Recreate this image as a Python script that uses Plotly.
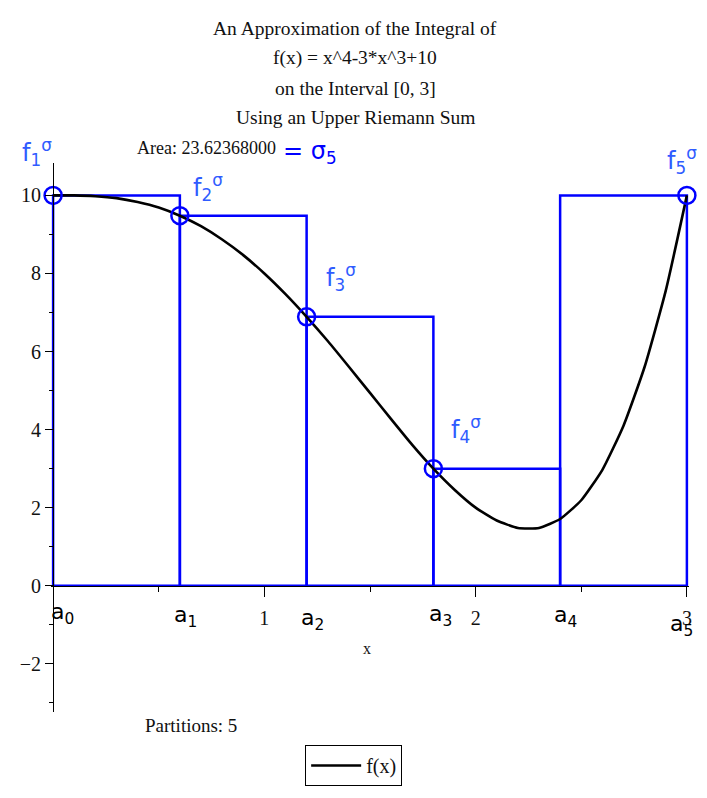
import plotly.graph_objects as go

# ---------------- data ----------------
curve_x = [0.0, 0.1, 0.2, 0.3, 0.4, 0.5, 0.6, 0.7, 0.8, 0.9, 1.0,
           1.1, 1.2, 1.3, 1.4, 1.5, 1.6, 1.7, 1.8, 1.9, 2.0,
           2.1, 2.2, 2.3, 2.4, 2.5, 2.6, 2.7, 2.8, 2.9, 3.0]
curve_y = [10.00, 10.00, 9.98, 9.93, 9.83, 9.69, 9.48, 9.21, 8.87, 8.47, 8.00,
           7.47, 6.89, 6.27, 5.61, 4.94, 4.27, 3.61, 3.00, 2.46, 2.00,
           1.67, 1.48, 1.48, 1.71, 2.19, 2.97, 4.10, 5.61, 7.56, 10.00]

partition_x = [0.0, 0.6, 1.2, 1.8, 2.4, 3.0]
upper_heights = [10.00, 9.48, 6.89, 3.00, 10.00]

sample_x = [0.0, 0.6, 1.2, 1.8, 3.0]
sample_y = [10.00, 9.48, 6.89, 3.00, 10.00]

x_tick_vals = [1, 2, 3]
x_minor_vals = [0.5, 1.5, 2.5]
y_tick_vals = [-2, 0, 2, 4, 6, 8, 10]
y_minor_vals = [-3, -1, 1, 3, 5, 7, 9]

title_lines = ["An Approximation of the Integral of",
               "f(x) = x^4-3*x^3+10",
               "on the Interval [0, 3]",
               "Using an Upper Riemann Sum"]
area_text = "Area: 23.62368000"
partitions_text = "Partitions: 5"
partition_labels = ["a<sub>0</sub>", "a<sub>1</sub>", "a<sub>2</sub>",
                    "a<sub>3</sub>", "a<sub>4</sub>", "a<sub>5</sub>"]
sample_labels = ["f<sub>1</sub><sup>σ</sup>", "f<sub>2</sub><sup>σ</sup>",
                 "f<sub>3</sub><sup>σ</sup>", "f<sub>4</sub><sup>σ</sup>",
                 "f<sub>5</sub><sup>σ</sup>"]
sum_label = "= σ<sub>5</sub>"

# ---------------- layout helpers ----------------
# the page body adds an 8px offset; the figure is sized to fit the window
OFF = 8
W, H = 707 - 2 * OFF + 8, 798 - 2 * OFF + 8
ML, PW = 37, 644
MT, PH = 155, 550
MR = W - ML - PW
MB = H - MT - PH
XR = [-0.01, 3.01]
YR = [-3.235, 10.83]


def pxx(s):
    return (s - OFF - ML) / PW


def pxy(s):
    return (H - MB - (s - OFF)) / PH


SERIF = "Liberation Serif"
HAND = "DejaVu Sans"
BLUE = "#0000FF"
LBLUE = "#2F5CFF"
TXT = "#111111"

fig = go.Figure()

# rectangles of the upper sum
rx, ry = [], []
for i, h in enumerate(upper_heights):
    a, b = partition_x[i], partition_x[i + 1]
    rx += [a, a, b, b, a, None]
    ry += [0, h, h, 0, 0, None]
fig.add_trace(go.Scatter(x=rx, y=ry, mode="lines",
                         line=dict(color=BLUE, width=2.5),
                         showlegend=False, hoverinfo="skip"))

# function curve
fig.add_trace(go.Scatter(x=curve_x, y=curve_y, mode="lines", name="f(x)",
                         line=dict(color="black", width=2.6, shape="spline", smoothing=0.5)))

# handwritten circles at sample points
fig.add_trace(go.Scatter(x=sample_x, y=sample_y, mode="markers",
                         marker=dict(symbol="circle-open", size=17, color=BLUE,
                                     line=dict(width=2.5, color=BLUE)),
                         showlegend=False, hoverinfo="skip", cliponaxis=False))

annotations = []
title_y = [28, 58, 88, 117]
for t, yy in zip(title_lines, title_y):
    annotations.append(dict(text=t, x=pxx(352), y=pxy(yy), xref="paper", yref="paper",
                            xanchor="center", yanchor="middle", showarrow=False,
                            font=dict(family=SERIF, size=19.5, color=TXT)))
annotations.append(dict(text=area_text, x=pxx(130), y=pxy(148), xref="paper", yref="paper",
                        xanchor="left", yanchor="middle", showarrow=False,
                        font=dict(family=SERIF, size=18, color=TXT)))
annotations.append(dict(text=sum_label, x=pxx(277), y=pxy(152), xref="paper", yref="paper",
                        xanchor="left", yanchor="middle", showarrow=False,
                        font=dict(family=HAND, size=24, color=BLUE)))
annotations.append(dict(text=partitions_text, x=pxx(138), y=pxy(727), xref="paper", yref="paper",
                        xanchor="left", yanchor="middle", showarrow=False,
                        font=dict(family=SERIF, size=19, color=TXT)))
annotations.append(dict(text="x", x=pxx(364), y=pxy(649), xref="paper", yref="paper",
                        xanchor="center", yanchor="middle", showarrow=False,
                        font=dict(family=SERIF, size=16, color=TXT)))

# handwritten partition labels a0..a5
a_label_pos = [(57, 614), (181, 617), (309, 620), (438, 616), (564, 617), (681, 626)]
for t, (xx, yy) in zip(partition_labels, a_label_pos):
    annotations.append(dict(text=t, x=pxx(xx), y=pxy(yy), xref="paper", yref="paper",
                            xanchor="center", yanchor="middle", showarrow=False,
                            font=dict(family=HAND, size=22, color="black")))

# handwritten sample labels f1..f5
f_label_pos = [(31, 152), (203, 188), (338, 278), (464, 430), (682, 160)]
for t, (xx, yy) in zip(sample_labels, f_label_pos):
    annotations.append(dict(text=t, x=pxx(xx), y=pxy(yy), xref="paper", yref="paper",
                            xanchor="center", yanchor="middle", showarrow=False,
                            font=dict(family=HAND, size=24, color=LBLUE)))

fig.update_layout(
    width=W, height=H,
    margin=dict(l=ML, r=MR, t=MT, b=MB, pad=0),
    paper_bgcolor="white", plot_bgcolor="white",
    showlegend=True,
    legend=dict(x=pxx(350.5), y=pxy(746), xanchor="center", yanchor="top",
                bordercolor="black", borderwidth=1, bgcolor="white",
                font=dict(family=SERIF, size=20, color=TXT),
                itemwidth=50),
    annotations=annotations,
    xaxis=dict(range=XR, anchor="free",
               position=(0 - YR[0]) / (YR[1] - YR[0]),
               showline=True, linecolor="black", linewidth=1,
               showgrid=False, zeroline=False,
               tickmode="array", tickvals=x_tick_vals,
               ticks="outside", ticklen=10, tickcolor="black", tickwidth=1,
               ticklabelstandoff=4,
               tickfont=dict(family=SERIF, size=20, color=TXT),
               minor=dict(tickmode="array", tickvals=x_minor_vals, ticks="outside",
                          ticklen=5, tickcolor="black", tickwidth=1, showgrid=False)),
    yaxis=dict(range=YR, anchor="free",
               position=(0 - XR[0]) / (XR[1] - XR[0]),
               showline=True, linecolor="black", linewidth=1,
               showgrid=False, zeroline=False,
               tickmode="array", tickvals=y_tick_vals,
               ticks="outside", ticklen=8, tickcolor="black", tickwidth=1,
               tickfont=dict(family=SERIF, size=20, color=TXT),
               minor=dict(tickmode="array", tickvals=y_minor_vals, ticks="outside",
                          ticklen=4, tickcolor="black", tickwidth=1, showgrid=False)),
)

fig.write_html("out.html")
